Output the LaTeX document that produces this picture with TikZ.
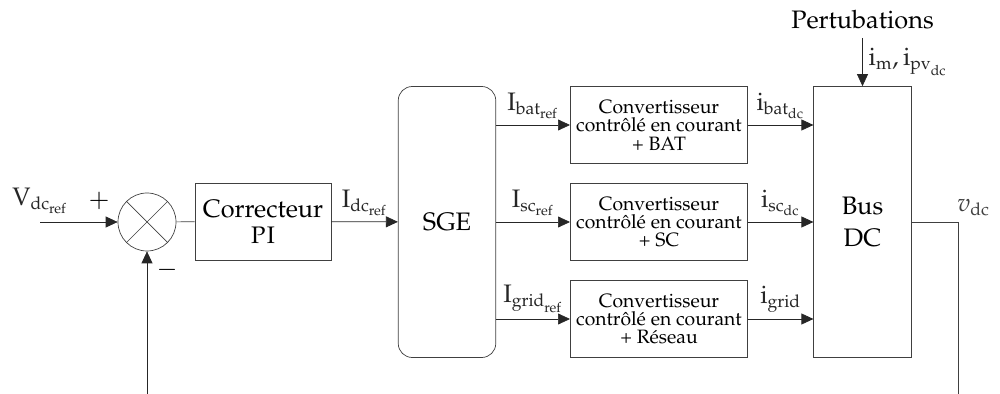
\documentclass[tikz,border=0pt]{standalone}
\usepackage{mathpazo}
\usepackage[T1]{fontenc}
\usepackage{amsmath}
\usepackage{tikz}
\usetikzlibrary{arrows.meta,positioning,calc}

\begin{document}
\begin{tikzpicture}[
    font=\Large,
    blk/.style={draw=black!75, minimum width=2.72cm, minimum height=1.54cm, align=center},
    conv/.style={draw=black!75, minimum width=3.48cm, minimum height=1.54cm, align=center, font=\fontsize{11}{12.5}\selectfont},
    tall/.style={draw=black!75, minimum width=1.95cm, minimum height=5.42cm, align=center},
    sumnode/.style={draw=black!75, circle, minimum size=1.16cm, inner sep=0pt},
    arr/.style={-{Triangle[length=2.4mm, width=2.2mm]}, black!85},
    ln/.style={black!75},
  ]
  \useasboundingbox (0,0) rectangle (20,7.88);

  % Comparator and corrector
  \coordinate (vin) at (0.8, 3.44);
  \node[sumnode] (sum) at (2.94, 3.44) {};
  \draw[ln] (sum.north west) -- (sum.south east);
  \draw[ln] (sum.north east) -- (sum.south west);
  \node[blk] (pi) at (5.26, 3.45) {Correcteur\\[-3pt]{\fontsize{17}{19}\selectfont\textsc{pi}}};

  % Energy management and converters
  \node[tall, rounded corners=0.28cm] (sge) at (8.94, 3.44) {SGE};
  \node[conv] (cbat)  at (13.18, 5.38) {Convertisseur\\[-2pt]contrôlé en courant\\[-2pt]+ BAT};
  \node[conv] (csc)   at (13.18, 3.44) {Convertisseur\\[-2pt]contrôlé en courant\\[-2pt]+ SC};
  \node[conv] (cgrid) at (13.18, 1.50) {Convertisseur\\[-2pt]contrôlé en courant\\[-2pt]+ Réseau};
  \node[tall] (bus) at (17.25, 3.44) {Bus\\DC};

  % Disturbance and output
  \node (pert) at (17.25, 7.48) {Pertubations};
  \coordinate (ptop) at (17.25, 7.12);
  \coordinate (vcorner) at (19.16, 3.44);
  \coordinate (vend) at (19.16, 0);
  \coordinate (fb) at (2.94, 0);

  % Edges
  \draw[arr] (vin) node[above=1pt] {$\mathrm{V}_{\mathrm{dc}_{\mathrm{ref}}}$} -- (sum);
  \draw[ln] (sum) -- (pi);
  \draw[arr] (pi) -- node[above] {$\mathrm{I}_{\mathrm{dc}_{\mathrm{ref}}}$} (sge);
  \draw[arr] (fb) -- (sum);
  \node at (1.98, 3.86) {$+$};
  \node at (3.34, 2.48) {$-$};

  \draw[arr] (cbat.west -| sge.east)  -- node[above] {$\mathrm{I}_{\mathrm{bat}_{\mathrm{ref}}}$} (cbat.west);
  \draw[arr] (csc.west -| sge.east)   -- node[above] {$\mathrm{I}_{\mathrm{sc}_{\mathrm{ref}}}$} (csc.west);
  \draw[arr] (cgrid.west -| sge.east) -- node[above] {$\mathrm{I}_{\mathrm{grid}_{\mathrm{ref}}}$} (cgrid.west);

  \draw[arr] (cbat.east)  -- node[above] {$\mathrm{i}_{\mathrm{bat}_{\mathrm{dc}}}$} (cbat.east -| bus.west);
  \draw[arr] (csc.east)   -- node[above] {$\mathrm{i}_{\mathrm{sc}_{\mathrm{dc}}}$} (csc.east -| bus.west);
  \draw[arr] (cgrid.east) -- node[above] {$\mathrm{i}_{\mathrm{grid}}$} (cgrid.east -| bus.west);

  \draw[arr] (ptop) -- node[right] {$\mathrm{i}_{\mathrm{m}},\mathrm{i}_{\mathrm{pv}_{\mathrm{dc}}}$} (bus.north);
  \draw[ln] (bus.east |- vcorner) -- (vcorner) node[above right=0pt and -4pt] {$v_{\mathrm{dc}}$} -- (vend);
\end{tikzpicture}
\end{document}
